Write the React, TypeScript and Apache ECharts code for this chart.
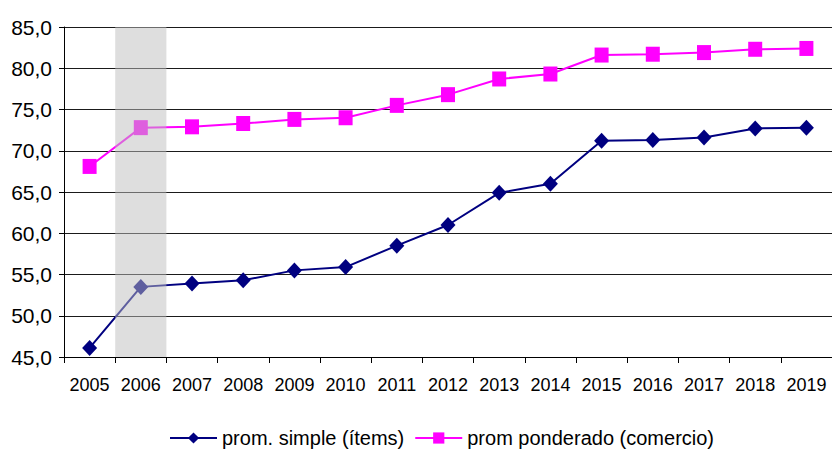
import React, { useEffect, useRef } from "react";
import * as echarts from "echarts";

const years = ["2005","2006","2007","2008","2009","2010","2011","2012","2013","2014","2015","2016","2017","2018","2019"];
const promSimple = [46.1, 53.5, 53.9, 54.3, 55.5, 55.9, 58.5, 61.0, 64.9, 66.0, 71.2, 71.3, 71.6, 72.7, 72.8];
const promPonderado = [68.1, 72.8, 72.9, 73.3, 73.8, 74.0, 75.5, 76.8, 78.7, 79.3, 81.6, 81.7, 81.9, 82.3, 82.4];
const shadedYears = ["2006"];
const yMin = 45;
const yMax = 85;
const yStep = 5;
const seriesNames = ["prom. simple (ítems)", "prom ponderado (comercio)"];

const FONT = "'Liberation Sans', Arial, sans-serif";

export default function App() {
  const ref = useRef<HTMLDivElement>(null);
  useEffect(() => {
    document.body.style.margin = "0";
    if (!ref.current) return;
    const chart = echarts.init(ref.current, null, { renderer: "svg" });
    chart.setOption({
      animation: false,
      backgroundColor: "#ffffff",
      grid: { left: 64, right: 0, top: 27, bottom: 93, containLabel: false },
      legend: {
        data: seriesNames,
        left: 164,
        top: 423,
        itemWidth: 47,
        itemHeight: 14,
        itemGap: 10,
        textStyle: { fontFamily: FONT, fontSize: 20, color: "#000" },
      },
      xAxis: {
        type: "category",
        data: years,
        boundaryGap: true,
        axisLine: { show: true, lineStyle: { color: "#000", width: 1 } },
        axisTick: { show: true, length: 6, alignWithLabel: false, lineStyle: { color: "#000" } },
        axisLabel: { fontFamily: FONT, fontSize: 18, color: "#000", margin: 19, interval: 0 },
        splitLine: { show: false },
      },
      yAxis: {
        type: "value",
        min: yMin,
        max: yMax,
        interval: yStep,
        axisLine: { show: true, lineStyle: { color: "#000", width: 1 } },
        axisTick: { show: true, length: 5, lineStyle: { color: "#000" } },
        axisLabel: {
          fontFamily: FONT,
          fontSize: 21,
          color: "#000",
          margin: 12,
          formatter: (v: number) => v.toFixed(1).replace(".", ","),
        },
        splitLine: { show: true, lineStyle: { color: "#1a1a1a", width: 1 } },
      },
      series: [
        {
          name: seriesNames[0],
          type: "line",
          data: promSimple,
          symbol: "diamond",
          symbolSize: [15, 16],
          itemStyle: { color: "#000080" },
          lineStyle: { color: "#000080", width: 2 },
          z: 3,
        },
        {
          name: seriesNames[1],
          type: "line",
          data: promPonderado,
          symbol: "rect",
          symbolSize: [14, 15],
          itemStyle: { color: "#ff00ff" },
          lineStyle: { color: "#ff00ff", width: 2 },
          z: 3,
        },
        {
          name: "shade",
          type: "bar",
          data: years.map((y) => (shadedYears.includes(y) ? yMax : null)),
          barWidth: "100%",
          barCategoryGap: "0%",
          itemStyle: { color: "rgba(190,190,190,0.5)" },
          silent: true,
          z: 10,
        },
      ],
    });
    return () => chart.dispose();
  }, []);
  return <div ref={ref} style={{ width: 832, height: 450 }} />;
}
